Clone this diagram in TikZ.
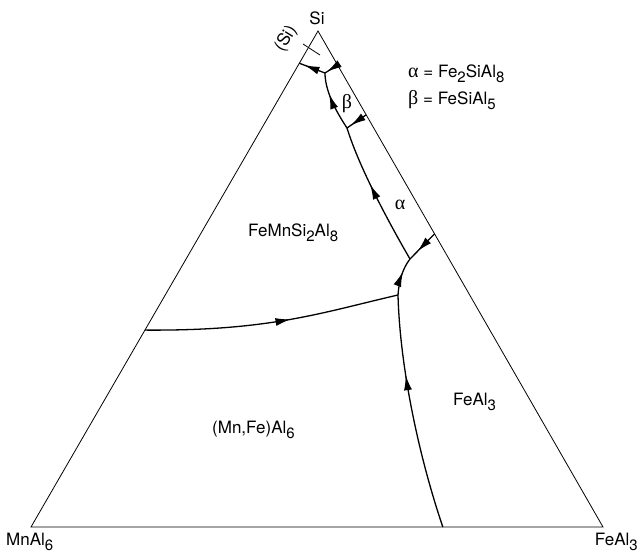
\documentclass[tikz,border=0pt]{standalone}
\usepackage{fontspec}
\setmainfont{TeX Gyre Heros}
\newfontfamily\grk{Liberation Serif}
\usetikzlibrary{arrows.meta,calc,decorations.markings}
\newcommand\dn[1]{\raisebox{-0.6ex}{\fontsize{15}{15}\selectfont #1}}
\newcommand\gr[1]{{\fontsize{20}{20}\grk #1}}

\begin{document}
\begin{tikzpicture}[x=1pt,y=-1pt]
    \tikzset{side/.style = {line width=0.8pt}}
    \tikzset{curve/.style = {line width=1.3pt}}
    \tikzset{flow/.style = {postaction={decorate,decoration={markings,
        mark=at position #1 with {\arrow{Latex[length=15pt,width=8pt]}}}}}}
    \tikzset{lab/.style = {inner sep=0pt,font=\fontsize{17}{19}\selectfont}}
    \useasboundingbox (0,0) rectangle (639,553);

    % corners
    \coordinate (t) at (318,31);
    \coordinate (l) at (31,527);
    \coordinate (r) at (603,527);

    % points on the sides
    \coordinate (s0) at ($(t)!0.065!(l)$);
    \coordinate (s1) at ($(t)!0.603!(l)$);
    \coordinate (q1) at ($(t)!0.0685!(r)$);
    \coordinate (q2) at ($(t)!0.169!(r)$);
    \coordinate (q3) at ($(t)!0.409!(r)$);
    \coordinate (b) at ($(l)!0.72!(r)$);
    \coordinate (k1) at (303,44);
    \coordinate (k2) at (320,55);

    % junctions
    \coordinate (j2) at (398,295);
    \coordinate (j3) at (410,259);
    \coordinate (j4) at (347,128);
    \coordinate (j5) at (325,73);

    % labels
    \node[lab] (si) at (317,18) {Si};
    \node[lab,anchor=west] (mn) at (6,542) {MnAl\dn{6}};
    \node[lab,anchor=east] (fe) at (638,542) {FeAl\dn{3}};
    \node[lab,rotate=58] (sis) at (286,39) {(Si)};
    \node[lab,anchor=west] (ka) at (408,74) {\gr{α} = Fe\dn{2}SiAl\dn{8}};
    \node[lab,anchor=west] (kb) at (408,100) {\gr{β} = FeSiAl\dn{5}};
    \node[lab] (be) at (347,104) {\gr{β}};
    \node[lab] (al) at (400,205) {\gr{α}};
    \node[lab,anchor=west] (fm) at (248,233) {FeMnSi\dn{2}Al\dn{8}};
    \node[lab,anchor=west] (mf) at (212,430) {(Mn,Fe)Al\dn{6}};
    \node[lab,anchor=west] (fa) at (453,402) {FeAl\dn{3}};

    % triangle
    \draw[side] (t) -- (l) -- (r) -- cycle;
    \draw[side] (k1) -- (k2);

    % curves
    \draw[curve,flow=0.57] (s1) .. controls (270,331) and (320,313) .. (j2);
    \draw[curve,flow=0.66] (b) .. controls (420,460) and (400,370) .. (j2);
    \draw[curve,flow=0.62] (j2) .. controls (399,280) and (403,268) .. (j3);
    \draw[curve,flow=0.69] (q3) -- (j3);
    \draw[curve,flow=0.58] (j3) .. controls (392,228) and (360,170) .. (j4);
    \draw[curve,flow=0.8] (q2) -- (j4);
    \draw[curve,flow=0.64] (j4) .. controls (335,110) and (325,90) .. (j5);
    \draw[curve,flow=0.85] (q1) -- (j5);
    \draw[curve,flow=0.8] (j5) -- (s0);
\end{tikzpicture}
\end{document}
